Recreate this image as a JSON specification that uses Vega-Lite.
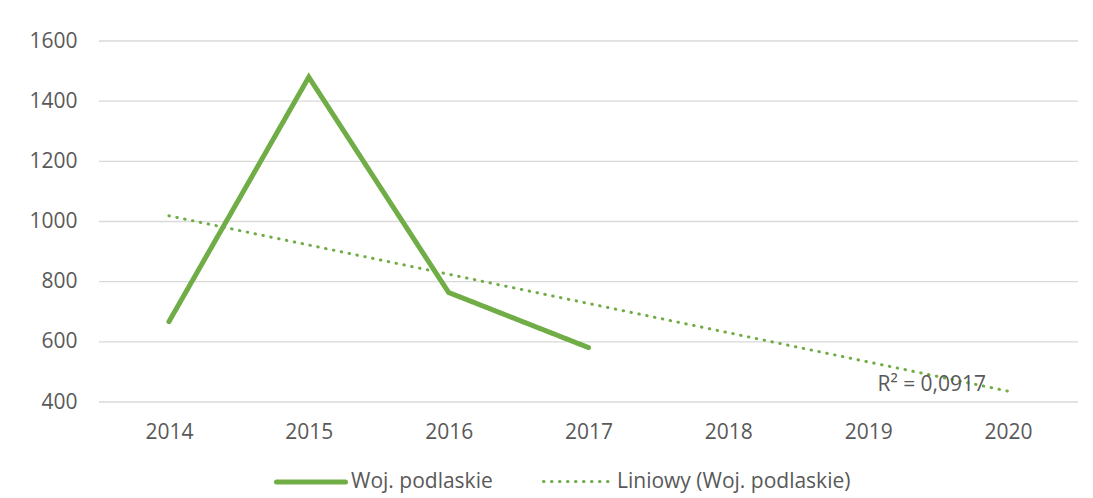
{
  "$schema": "https://vega.github.io/schema/vega-lite/v6.json",
  "width": 979,
  "height": 361,
  "autosize": {"type": "none"},
  "padding": {"left": 99, "top": 41, "right": 15, "bottom": 96},
  "background": "white",
  "config": {
    "view": {"stroke": null},
    "font": "Open Sans",
    "axis": {"labelFont": "Open Sans", "labelFontSize": 21, "labelColor": "#595959", "title": null, "domain": false, "ticks": false, "grid": false},
    "legend": {"labelFont": "Open Sans", "labelFontSize": 21, "labelColor": "#595959", "labelLimit": 500}
  },
  "data": {
    "values": [
      {"year": "2014", "value": 667, "series": "Woj. podlaskie"},
      {"year": "2015", "value": 1480, "series": "Woj. podlaskie"},
      {"year": "2016", "value": 764, "series": "Woj. podlaskie"},
      {"year": "2017", "value": 581, "series": "Woj. podlaskie"},
      {"year": "2014", "value": 1019, "series": "Liniowy (Woj. podlaskie)"},
      {"year": "2020", "value": 436, "series": "Liniowy (Woj. podlaskie)"}
    ]
  },
  "layer": [
    {
      "mark": {"type": "rule", "color": "#D9D9D9", "strokeWidth": 1.3},
      "data": {"values": [{"g": 400}, {"g": 600}, {"g": 800}, {"g": 1000}, {"g": 1200}, {"g": 1400}, {"g": 1600}]},
      "encoding": {
        "y": {"field": "g", "type": "quantitative", "scale": {"domain": [400, 1600], "nice": false, "zero": false}}
      }
    },
    {
      "mark": {"type": "line", "strokeCap": "round", "strokeJoin": "miter"},
      "encoding": {
        "x": {
          "field": "year", "type": "ordinal",
          "scale": {"type": "point", "domain": ["2014", "2015", "2016", "2017", "2018", "2019", "2020"], "padding": 0.5},
          "axis": {"labelAngle": 0, "labelPadding": 19}
        },
        "y": {
          "field": "value", "type": "quantitative",
          "scale": {"domain": [400, 1600], "nice": false, "zero": false},
          "axis": {"values": [400, 600, 800, 1000, 1200, 1400, 1600], "format": "d", "labelPadding": 22}
        },
        "color": {
          "field": "series", "type": "nominal",
          "scale": {"domain": ["Woj. podlaskie", "Liniowy (Woj. podlaskie)"], "range": ["#70AD47", "#70AD47"]},
          "legend": {
            "title": null, "orient": "none", "direction": "horizontal",
            "legendX": 175, "legendY": 404,
            "symbolSize": 4761, "labelOffset": 3, "columnPadding": 44, "symbolType": "stroke",
            "encode": {"symbols": {"update": {"strokeCap": {"value": "round"}}}}
          }
        },
        "strokeDash": {
          "field": "series", "type": "nominal",
          "scale": {"domain": ["Woj. podlaskie", "Liniowy (Woj. podlaskie)"], "range": [[1, 0], [0.5, 7.5]]}
        },
        "strokeWidth": {
          "field": "series", "type": "nominal",
          "scale": {"domain": ["Woj. podlaskie", "Liniowy (Woj. podlaskie)"], "range": [5, 3]}
        }
      }
    },
    {
      "data": {"values": [{"year": "2020", "value": 456, "label": "R² = 0,0917"}]},
      "mark": {"type": "text", "align": "right", "baseline": "middle", "dx": -22, "fontSize": 21, "color": "#595959", "font": "Open Sans"},
      "encoding": {
        "x": {"field": "year", "type": "ordinal", "scale": {"type": "point", "domain": ["2014", "2015", "2016", "2017", "2018", "2019", "2020"], "padding": 0.5}},
        "y": {"field": "value", "type": "quantitative", "scale": {"domain": [400, 1600], "nice": false, "zero": false}},
        "text": {"field": "label"}
      }
    }
  ]
}
